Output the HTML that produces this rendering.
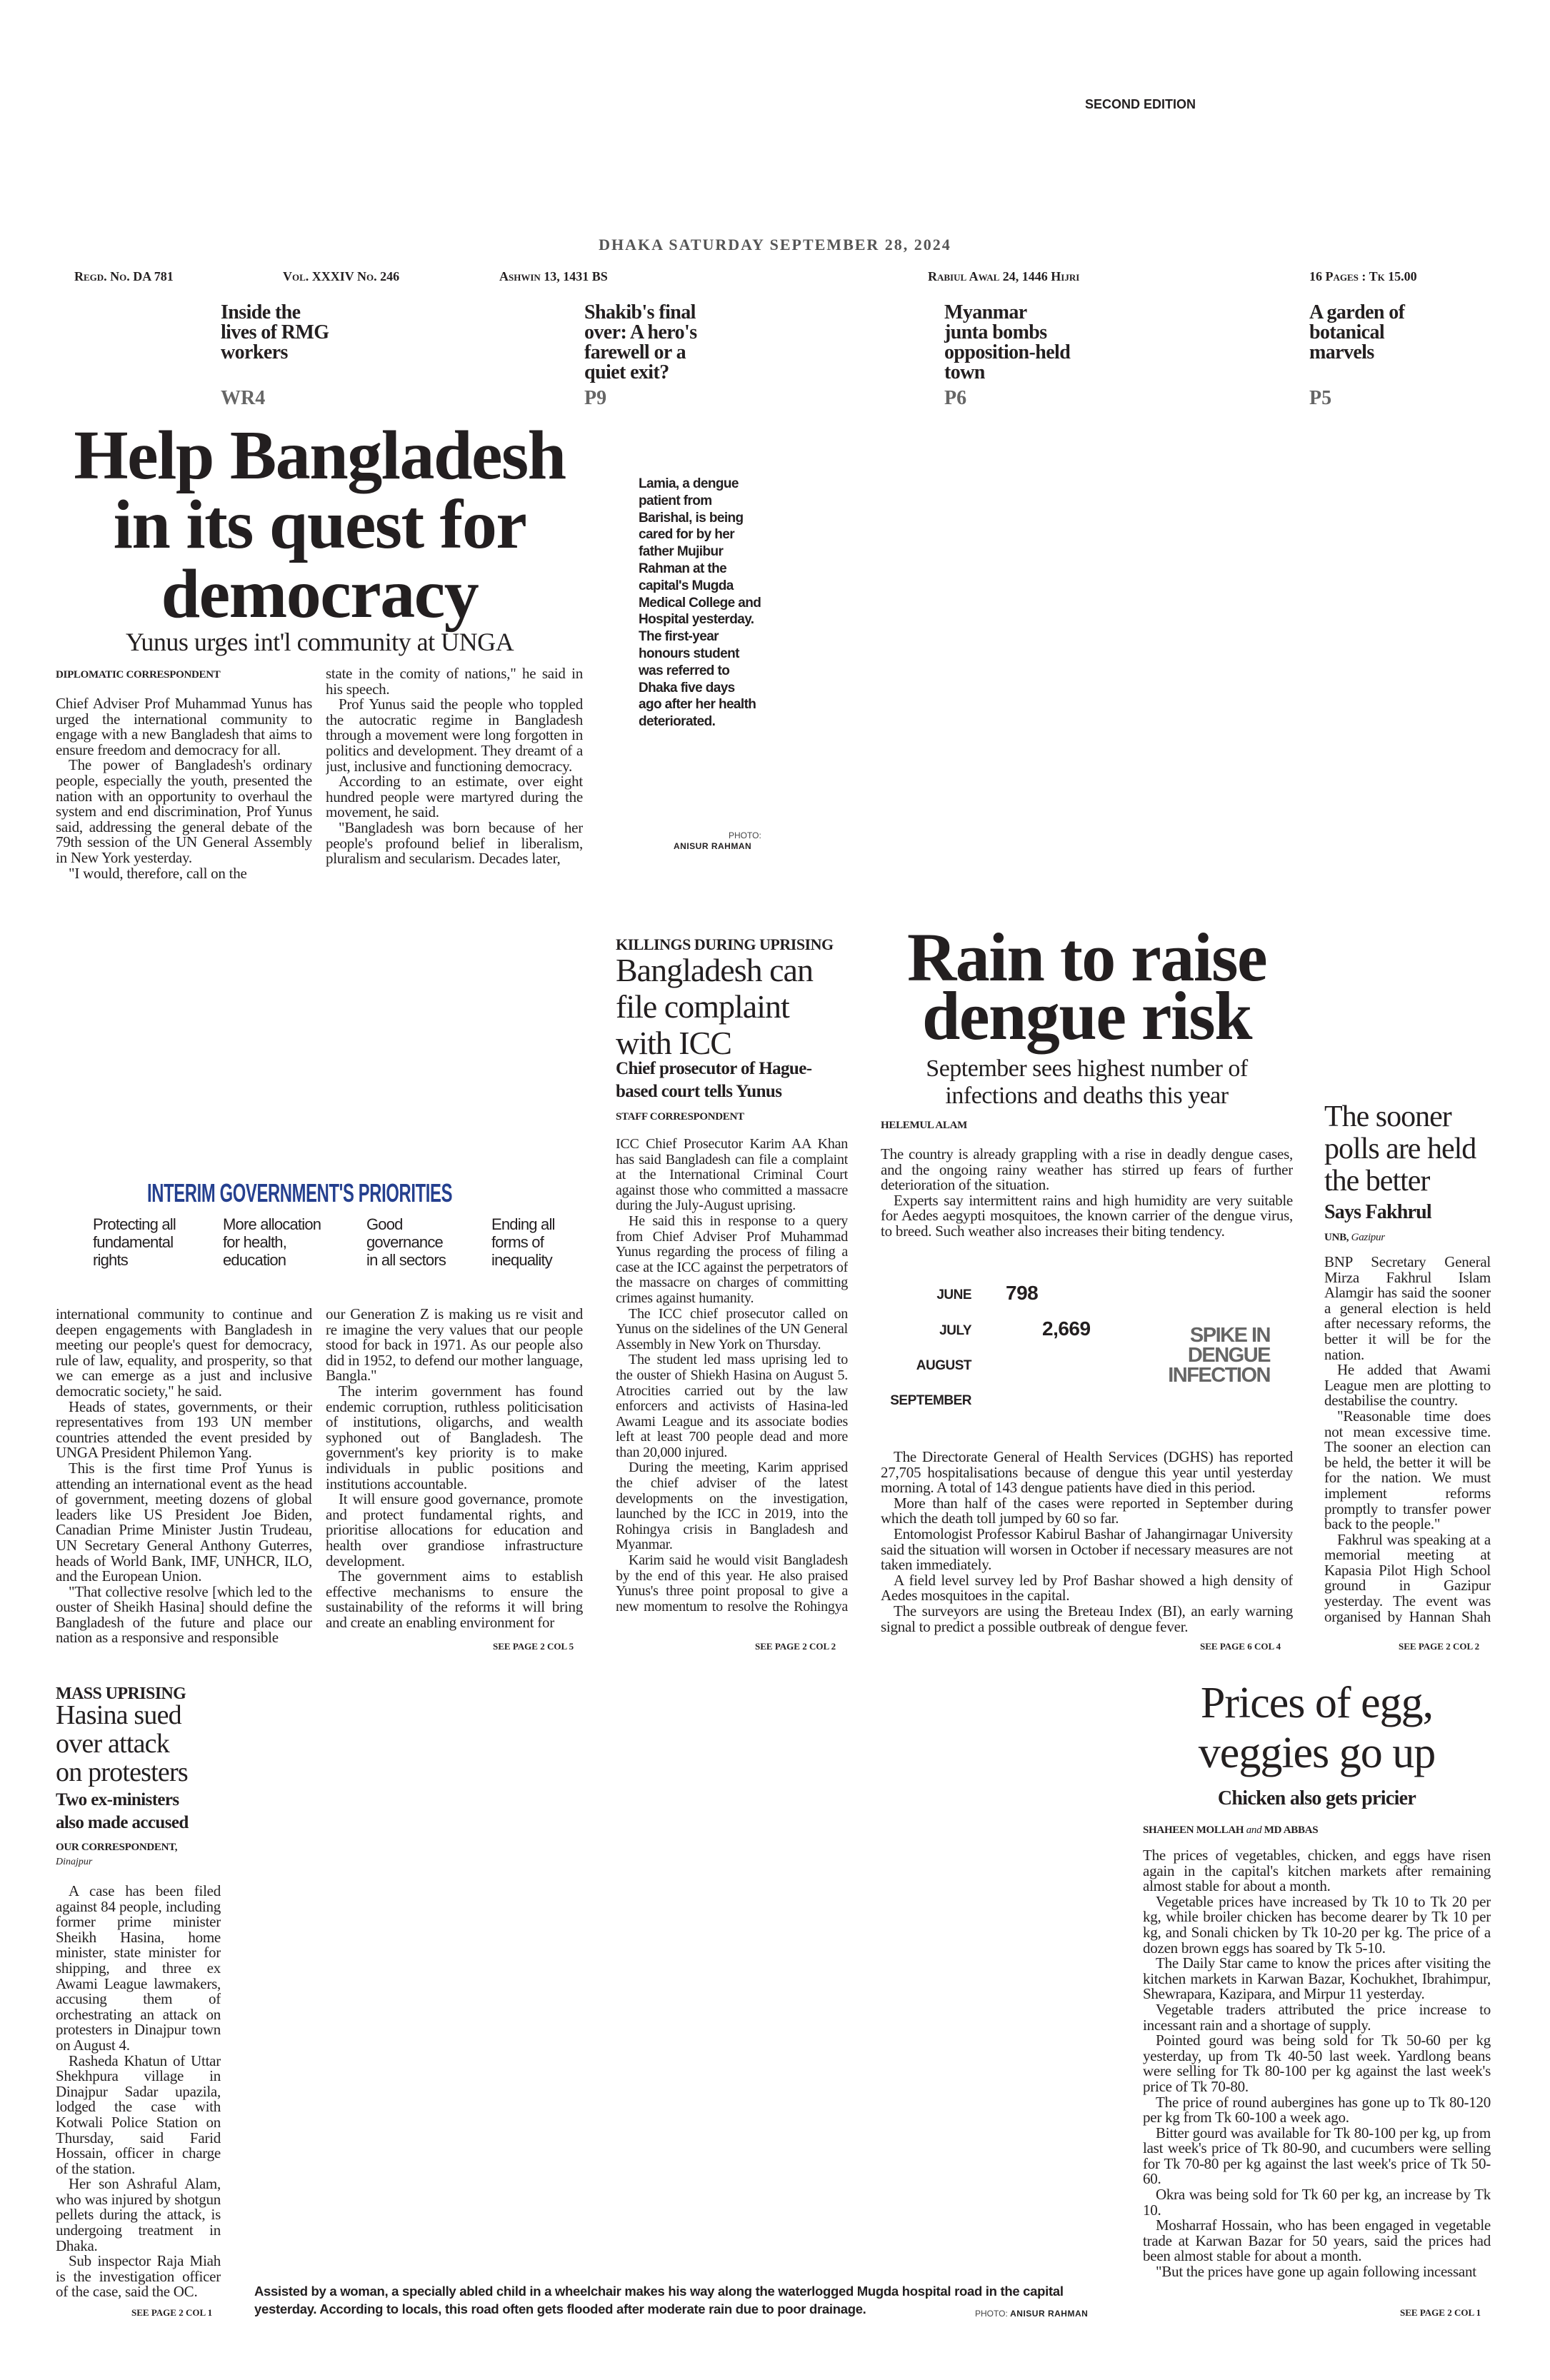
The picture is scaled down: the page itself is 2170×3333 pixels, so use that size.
<!DOCTYPE html>
<html><head><meta charset="utf-8"><style>
*{margin:0;padding:0;box-sizing:border-box}
html,body{width:2170px;height:3333px;background:#fff;overflow:hidden;position:relative;color:#231f20}
.a{position:absolute;white-space:nowrap}
.s{font-family:"Liberation Serif",serif}
.ss{font-family:"Liberation Sans",sans-serif}
.bd{position:absolute;font-family:"Liberation Serif",serif;font-size:21px;line-height:21.6px;letter-spacing:-0.25px;text-align:justify;overflow:hidden;color:#231f20}
.bd p{text-indent:18px}
.bd p.n{text-indent:0}
.by{font-family:"Liberation Serif",serif;font-weight:bold;font-size:15px;letter-spacing:-0.3px}
.see{font-family:"Liberation Serif",serif;font-weight:bold;font-size:13px}
.info{font-family:"Liberation Serif",serif;font-weight:bold;font-size:18px;font-variant:small-caps;top:377px}
.teas{font-family:"Liberation Serif",serif;font-weight:bold;font-size:28px;line-height:28px;top:424px;letter-spacing:-0.6px}
.pg{font-family:"Liberation Serif",serif;font-weight:bold;font-size:28px;color:#666;top:542px}
.pr{font-family:"Liberation Sans",sans-serif;font-size:22px;line-height:25px;top:1702px;letter-spacing:-0.8px}
.mo{font-family:"Liberation Sans",sans-serif;font-weight:bold;font-size:19px;text-align:right;width:130px;letter-spacing:-0.5px}
.num{font-family:"Liberation Sans",sans-serif;font-weight:bold;font-size:28px;letter-spacing:-0.5px}
</style></head><body>

<div class="a ss" style="left:1519px;top:136px;font-size:18px;font-weight:bold">SECOND EDITION</div>
<div class="a s" style="left:0;width:2170px;text-align:center;top:330px;font-size:22px;font-weight:bold;color:#555;letter-spacing:2px">DHAKA SATURDAY SEPTEMBER 28, 2024</div>

<div class="a info" style="left:104px">Regd. No. DA 781</div>
<div class="a info" style="left:396px">Vol. XXXIV No. 246</div>
<div class="a info" style="left:699px">Ashwin 13, 1431 BS</div>
<div class="a info" style="left:1299px">Rabiul Awal 24, 1446 Hijri</div>
<div class="a info" style="left:1833px">16 Pages : Tk 15.00</div>

<div class="a teas" style="left:309px">Inside the<br>lives of RMG<br>workers</div>
<div class="a teas" style="left:818px">Shakib's final<br>over: A hero's<br>farewell or a<br>quiet exit?</div>
<div class="a teas" style="left:1322px">Myanmar<br>junta bombs<br>opposition-held<br>town</div>
<div class="a teas" style="left:1833px">A garden of<br>botanical<br>marvels</div>
<div class="a pg" style="left:309px">WR4</div>
<div class="a pg" style="left:818px">P9</div>
<div class="a pg" style="left:1322px">P6</div>
<div class="a pg" style="left:1833px">P5</div>

<div class="a s" style="left:40px;width:815px;text-align:center;top:590px;font-size:98px;line-height:97px;font-weight:bold;letter-spacing:-1.5px">Help Bangladesh<br>in its quest for<br>democracy</div>
<div class="a s" style="left:60px;width:775px;text-align:center;top:878px;font-size:36px;letter-spacing:-0.5px">Yunus urges int'l community at UNGA</div>

<div class="a ss" style="left:894px;top:666px;font-size:19px;line-height:23.8px;font-weight:bold;letter-spacing:-0.6px">Lamia, a dengue<br>patient from<br>Barishal, is being<br>cared for by her<br>father Mujibur<br>Rahman at the<br>capital's Mugda<br>Medical College and<br>Hospital yesterday.<br>The first-year<br>honours student<br>was referred to<br>Dhaka five days<br>ago after her health<br>deteriorated.</div>
<div class="a ss" style="left:1020px;top:1163px;font-size:12px;color:#444">PHOTO:</div>
<div class="a ss" style="left:943px;top:1178px;font-size:12px;font-weight:bold;letter-spacing:0.5px">ANISUR RAHMAN</div>

<div class="a by" style="left:78px;top:937px">DIPLOMATIC CORRESPONDENT</div>
<div class="bd" style="left:78px;top:975px;width:359px;height:262px">
<p class="n">Chief Adviser Prof Muhammad Yunus has urged the international community to engage with a new Bangladesh that aims to ensure freedom and democracy for all.</p>
<p>The power of Bangladesh's ordinary people, especially the youth, presented the nation with an opportunity to overhaul the system and end discrimination, Prof Yunus said, addressing the general debate of the 79th session of the UN General Assembly in New York yesterday.</p>
<p>"I would, therefore, call on the</p></div>
<div class="bd" style="left:456px;top:933px;width:360px;height:304px">
<p class="n">state in the comity of nations," he said in his speech.</p>
<p>Prof Yunus said the people who toppled the autocratic regime in Bangladesh through a movement were long forgotten in politics and development. They dreamt of a just, inclusive and functioning democracy.</p>
<p>According to an estimate, over eight hundred people were martyred during the movement, he said.</p>
<p>"Bangladesh was born because of her people's profound belief in liberalism, pluralism and secularism. Decades later,</p></div>

<div class="a ss" style="left:206px;top:1650px;font-size:36px;font-weight:bold;color:#25408f;transform:scaleX(0.66);transform-origin:left top;letter-spacing:-0.5px">INTERIM GOVERNMENT'S PRIORITIES</div>
<div class="a pr" style="left:130px">Protecting all<br>fundamental<br>rights</div>
<div class="a pr" style="left:312px">More allocation<br>for health,<br>education</div>
<div class="a pr" style="left:513px">Good<br>governance<br>in all sectors</div>
<div class="a pr" style="left:688px">Ending all<br>forms of<br>inequality</div>

<div class="bd" style="left:78px;top:1830px;width:359px;height:476px">
<p class="n">international community to continue and deepen engagements with Bangladesh in meeting our people's quest for democracy, rule of law, equality, and prosperity, so that we can emerge as a just and inclusive democratic society," he said.</p>
<p>Heads of states, governments, or their representatives from 193 UN member countries attended the event presided by UNGA President Philemon Yang.</p>
<p>This is the first time Prof Yunus is attending an international event as the head of government, meeting dozens of global leaders like US President Joe Biden, Canadian Prime Minister Justin Trudeau, UN Secretary General Anthony Guterres, heads of World Bank, IMF, UNHCR, ILO, and the European Union.</p>
<p>"That collective resolve [which led to the ouster of Sheikh Hasina] should define the Bangladesh of the future and place our nation as a responsive and responsible</p></div>
<div class="bd" style="left:456px;top:1830px;width:360px;height:476px">
<p class="n">our Generation Z is making us re visit and re imagine the very values that our people stood for back in 1971. As our people also did in 1952, to defend our mother language, Bangla."</p>
<p>The interim government has found endemic corruption, ruthless politicisation of institutions, oligarchs, and wealth syphoned out of Bangladesh. The government's key priority is to make individuals in public positions and institutions accountable.</p>
<p>It will ensure good governance, promote and protect fundamental rights, and prioritise allocations for education and health over grandiose infrastructure development.</p>
<p>The government aims to establish effective mechanisms to ensure the sustainability of the reforms it will bring and create an enabling environment for</p></div>
<div class="a see" style="left:690px;top:2298px">SEE PAGE 2 COL 5</div>

<div class="a s" style="left:862px;top:1310px;font-size:22px;font-weight:bold;letter-spacing:-0.5px">KILLINGS DURING UPRISING</div>
<div class="a s" style="left:862px;top:1333px;font-size:46px;line-height:51px;letter-spacing:-1px">Bangladesh can<br>file complaint<br>with ICC</div>
<div class="a s" style="left:862px;top:1481px;font-size:25px;line-height:32px;font-weight:bold;letter-spacing:-0.6px">Chief prosecutor of Hague-<br>based court tells Yunus</div>
<div class="a by" style="left:862px;top:1556px">STAFF CORRESPONDENT</div>
<div class="bd" style="left:862px;top:1592px;width:325px;height:670px;font-size:20px">
<p class="n">ICC Chief Prosecutor Karim AA Khan has said Bangladesh can file a complaint at the International Criminal Court against those who committed a massacre during the July-August uprising.</p>
<p>He said this in response to a query from Chief Adviser Prof Muhammad Yunus regarding the process of filing a case at the ICC against the perpetrators of the massacre on charges of committing crimes against humanity.</p>
<p>The ICC chief prosecutor called on Yunus on the sidelines of the UN General Assembly in New York on Thursday.</p>
<p>The student led mass uprising led to the ouster of Shiekh Hasina on August 5. Atrocities carried out by the law enforcers and activists of Hasina-led Awami League and its associate bodies left at least 700 people dead and more than 20,000 injured.</p>
<p>During the meeting, Karim apprised the chief adviser of the latest developments on the investigation, launched by the ICC in 2019, into the Rohingya crisis in Bangladesh and Myanmar.</p>
<p>Karim said he would visit Bangladesh by the end of this year. He also praised Yunus's three point proposal to give a new momentum to resolve the Rohingya crisis.</p></div>
<div class="a see" style="left:1057px;top:2298px">SEE PAGE 2 COL 2</div>

<div class="a s" style="left:1203px;width:637px;text-align:center;top:1300px;font-size:96px;line-height:82px;font-weight:bold;letter-spacing:-1.5px">Rain to raise<br>dengue risk</div>
<div class="a s" style="left:1233px;width:577px;text-align:center;top:1478px;font-size:34px;line-height:38px;letter-spacing:-0.5px">September sees highest number of<br>infections and deaths this year</div>
<div class="a by" style="left:1233px;top:1568px">HELEMUL ALAM</div>
<div class="bd" style="left:1233px;top:1606px;width:577px;height:130px">
<p class="n">The country is already grappling with a rise in deadly dengue cases, and the ongoing rainy weather has stirred up fears of further deterioration of the situation.</p>
<p>Experts say intermittent rains and high humidity are very suitable for Aedes aegypti mosquitoes, the known carrier of the dengue virus, to breed. Such weather also increases their biting tendency.</p></div>

<div class="a mo" style="left:1230px;top:1803px">JUNE</div>
<div class="a num" style="left:1408px;top:1795px">798</div>
<div class="a mo" style="left:1230px;top:1853px">JULY</div>
<div class="a num" style="left:1459px;top:1845px">2,669</div>
<div class="a mo" style="left:1230px;top:1902px">AUGUST</div>
<div class="a mo" style="left:1230px;top:1951px">SEPTEMBER</div>
<div class="a ss" style="left:1598px;width:180px;text-align:right;top:1856px;font-size:29px;line-height:28px;font-weight:bold;color:#666;letter-spacing:-1.5px">SPIKE IN<br>DENGUE<br>INFECTION</div>

<div class="bd" style="left:1233px;top:2030px;width:577px;height:266px">
<p>The Directorate General of Health Services (DGHS) has reported 27,705 hospitalisations because of dengue this year until yesterday morning. A total of 143 dengue patients have died in this period.</p>
<p>More than half of the cases were reported in September during which the death toll jumped by 60 so far.</p>
<p>Entomologist Professor Kabirul Bashar of Jahangirnagar University said the situation will worsen in October if necessary measures are not taken immediately.</p>
<p>A field level survey led by Prof Bashar showed a high density of Aedes mosquitoes in the capital.</p>
<p>The surveyors are using the Breteau Index (BI), an early warning signal to predict a possible outbreak of dengue fever.</p></div>
<div class="a see" style="left:1680px;top:2298px">SEE PAGE 6 COL 4</div>

<div class="a s" style="left:1854px;top:1542px;font-size:42px;line-height:45px;letter-spacing:-1px">The sooner<br>polls are held<br>the better</div>
<div class="a s" style="left:1854px;top:1682px;font-size:28px;font-weight:bold;letter-spacing:-0.8px">Says Fakhrul</div>
<div class="a by" style="left:1854px;top:1725px">UNB, <i style="font-weight:normal">Gazipur</i></div>
<div class="bd" style="left:1854px;top:1757px;width:233px;height:518px">
<p class="n">BNP Secretary General Mirza Fakhrul Islam Alamgir has said the sooner a general election is held after necessary reforms, the better it will be for the nation.</p>
<p>He added that Awami League men are plotting to destabilise the country.</p>
<p>"Reasonable time does not mean excessive time. The sooner an election can be held, the better it will be for the nation. We must implement reforms promptly to transfer power back to the people."</p>
<p>Fakhrul was speaking at a memorial meeting at Kapasia Pilot High School ground in Gazipur yesterday. The event was organised by Hannan Shah Smriti Sangsad marking the</p></div>
<div class="a see" style="left:1958px;top:2298px">SEE PAGE 2 COL 2</div>

<div class="a s" style="left:78px;top:2359px;font-size:24px;font-weight:bold;letter-spacing:-0.6px">MASS UPRISING</div>
<div class="a s" style="left:78px;top:2382px;font-size:38px;line-height:40px;letter-spacing:-0.8px">Hasina sued<br>over attack<br>on protesters</div>
<div class="a s" style="left:78px;top:2505px;font-size:25px;line-height:32px;font-weight:bold;letter-spacing:-0.6px">Two ex-ministers<br>also made accused</div>
<div class="a by" style="left:78px;top:2579px">OUR CORRESPONDENT,</div>
<div class="a s" style="left:78px;top:2600px;font-size:14px;font-style:italic">Dinajpur</div>
<div class="bd" style="left:78px;top:2638px;width:231px;height:592px">
<p>A case has been filed against 84 people, including former prime minister Sheikh Hasina, home minister, state minister for shipping, and three ex Awami League lawmakers, accusing them of orchestrating an attack on protesters in Dinajpur town on August 4.</p>
<p>Rasheda Khatun of Uttar Shekhpura village in Dinajpur Sadar upazila, lodged the case with Kotwali Police Station on Thursday, said Farid Hossain, officer in charge of the station.</p>
<p>Her son Ashraful Alam, who was injured by shotgun pellets during the attack, is undergoing treatment in Dhaka.</p>
<p>Sub inspector Raja Miah is the investigation officer of the case, said the OC.</p></div>
<div class="a see" style="left:184px;top:3231px">SEE PAGE 2 COL 1</div>

<div class="a ss" style="left:356px;top:3196px;font-size:18.5px;line-height:25px;font-weight:bold;letter-spacing:-0.3px">Assisted by a woman, a specially abled child in a wheelchair makes his way along the waterlogged Mugda hospital road in the capital<br>yesterday. According to locals, this road often gets flooded after moderate rain due to poor drainage.</div>
<div class="a ss" style="left:1365px;top:3233px;font-size:12px;color:#444">PHOTO: <b style="color:#222;letter-spacing:0.5px">ANISUR RAHMAN</b></div>

<div class="a s" style="left:1600px;width:487px;text-align:center;top:2350px;font-size:62px;line-height:70px;letter-spacing:-1px">Prices of egg,<br>veggies go up</div>
<div class="a s" style="left:1600px;width:487px;text-align:center;top:2503px;font-size:28px;font-weight:bold;letter-spacing:-0.7px">Chicken also gets pricier</div>
<div class="a by" style="left:1600px;top:2555px">SHAHEEN MOLLAH <i style="font-weight:normal">and</i> MD ABBAS</div>
<div class="bd" style="left:1600px;top:2588px;width:487px;height:628px">
<p class="n">The prices of vegetables, chicken, and eggs have risen again in the capital's kitchen markets after remaining almost stable for about a month.</p>
<p>Vegetable prices have increased by Tk 10 to Tk 20 per kg, while broiler chicken has become dearer by Tk 10 per kg, and Sonali chicken by Tk 10-20 per kg. The price of a dozen brown eggs has soared by Tk 5-10.</p>
<p>The Daily Star came to know the prices after visiting the kitchen markets in Karwan Bazar, Kochukhet, Ibrahimpur, Shewrapara, Kazipara, and Mirpur 11 yesterday.</p>
<p>Vegetable traders attributed the price increase to incessant rain and a shortage of supply.</p>
<p>Pointed gourd was being sold for Tk 50-60 per kg yesterday, up from Tk 40-50 last week. Yardlong beans were selling for Tk 80-100 per kg against the last week's price of Tk 70-80.</p>
<p>The price of round aubergines has gone up to Tk 80-120 per kg from Tk 60-100 a week ago.</p>
<p>Bitter gourd was available for Tk 80-100 per kg, up from last week's price of Tk 80-90, and cucumbers were selling for Tk 70-80 per kg against the last week's price of Tk 50-60.</p>
<p>Okra was being sold for Tk 60 per kg, an increase by Tk 10.</p>
<p>Mosharraf Hossain, who has been engaged in vegetable trade at Karwan Bazar for 50 years, said the prices had been almost stable for about a month.</p>
<p>"But the prices have gone up again following incessant</p></div>
<div class="a see" style="left:1960px;top:3231px">SEE PAGE 2 COL 1</div>

</body></html>
